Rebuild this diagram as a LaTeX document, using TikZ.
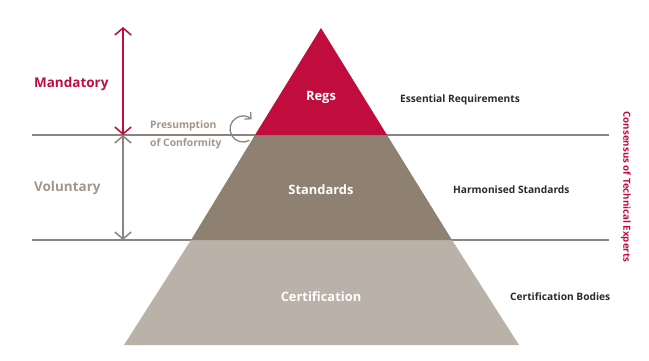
\documentclass[tikz,border=0pt]{standalone}
\usepackage{fontspec}
\setmainfont{Open Sans}
\usetikzlibrary{arrows.meta,positioning}
\definecolor{regsred}{HTML}{C00D3E}
\definecolor{stdbrown}{HTML}{8F8172}
\definecolor{certgrey}{HTML}{BAB1A8}
\definecolor{linegrey}{HTML}{8C8480}
\definecolor{volgrey}{HTML}{A39689}
\definecolor{labeldark}{HTML}{2A2A2A}

\begin{document}
\begin{tikzpicture}[
      x=0.03cm, y=-0.03cm,
      tier/.style={
        font=\bfseries\fontsize{11}{13}\selectfont,
        text=white
      },
      side/.style={
        anchor=west,
        text=labeldark,
        font=\bfseries\fontsize{8.7}{10}\selectfont
      },
      level/.style={
        anchor=west,
        font=\bfseries\fontsize{11.5}{14}\selectfont
      },
      span/.style={
        line width=1.3pt,
        {Straight Barb[length=6pt,width=14pt]}-{Straight Barb[length=6pt,width=14pt]}
      },
      divider/.style={draw=linegrey, line width=0.9pt}
    ]
      \path[use as bounding box] (0,0) rectangle (649,360);

      % Dividers
      \coordinate (d1w) at (32,135);
      \coordinate (d1e) at (609,135);
      \coordinate (d2w) at (32,240);
      \coordinate (d2e) at (609,240);
      \draw[divider] (d1w) -- (d1e);
      \draw[divider] (d2w) -- (d2e);

      % Pyramid
      \fill[certgrey] (191,240) -- (452,240) -- (519,345) -- (124,345) -- cycle;
      \fill[stdbrown] (255,135) -- (387,135) -- (452,240) -- (191,240) -- cycle;
      \fill[regsred] (321,28) -- (387,135) -- (255,135) -- cycle;

      \node[tier] (regs) at (321,97) {Regs};
      \node[tier] (std) at (321,190) {Standards};
      \node[tier] (cert) at (321,297) {Certification};

      % Side labels
      \node[side] (essreq) at (396,100) {Essential Requirements};
      \node[side] (harm) at (449,190) {Harmonised Standards};
      \node[side] (bodies) at (506,297) {Certification Bodies};
      \node[rotate=-90, text=regsred, font=\bfseries\fontsize{8.3}{9}\selectfont]
        (experts) at (626,187) {Consensus of Technical Experts};

      % Levels
      \node[level, text=regsred] (mand) at (30,84) {Mandatory};
      \node[level, text=volgrey] (vol) at (30,188) {Voluntary};

      \coordinate (mtop) at (123,27);
      \coordinate (mmid) at (123,135);
      \coordinate (vbot) at (123,240);
      \draw[span, regsred] (mtop) -- (mmid);
      \draw[span, linegrey] (mmid) -- (vbot);

      % Presumption of conformity
      \node[anchor=west, align=left, text=volgrey,
        font=\bfseries\fontsize{8.8}{15}\selectfont]
        (presum) at (146,135) {Presumption\\of Conformity};
      \coordinate (loop) at (243,129);
      \draw[linegrey, line width=1.1pt, -{Straight Barb[length=4pt,width=8pt]}]
        ([shift={(60:13)}]loop) arc[start angle=60, end angle=312, radius=13];
    \end{tikzpicture}
\end{document}
